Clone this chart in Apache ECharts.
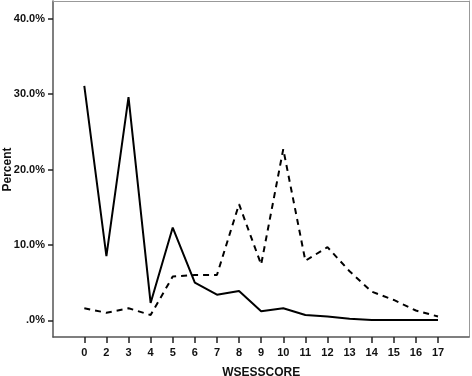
<!DOCTYPE html>
<html>
<head>
<meta charset="utf-8">
<script src="https://cdn.jsdelivr.net/npm/echarts@6/dist/echarts.min.js"></script>
<style>html,body{margin:0;padding:0;background:#fff}#c{width:472px;height:376px}</style>
</head>
<body>
<div id="c"></div>
<script>
var categories = ['0','2','3','4','5','6','7','8','9','10','11','12','13','14','15','16','17'];
var solidValues = [31.1, 8.5, 29.6, 2.3, 12.3, 5.0, 3.4, 3.9, 1.2, 1.6, 0.7, 0.5, 0.2, 0.05, 0.05, 0.05, 0.05];
var dashedValues = [1.6, 1.0, 1.6, 0.7, 5.8, 6.0, 6.0, 15.4, 7.4, 22.7, 7.9, 9.7, 6.5, 3.8, 2.7, 1.3, 0.5];
var yMin = 0, yMax = 40, yStep = 10;

var font = 'Liberation Sans';
var txt = {fontFamily: font, fontWeight: 'bold', fontSize: 11, color: '#111'};
var nameTxt = {fontFamily: font, fontWeight: 'bold', fontSize: 12, color: '#111'};
var off = {show: false};
var frame = {left: 53, right: 3, top: 1, bottom: 39};
var inner = {left: 84.3, right: 34};
var yBand = {top: 18.7, bottom: 55.7};
function g(o){ return Object.assign({containLabel: false, outerBoundsMode: 'none'}, o); }

var chart = echarts.init(document.getElementById('c'), null, {renderer:'canvas'});
chart.setOption({
  animation: false,
  backgroundColor: '#fff',
  grid: [
    g({left: frame.left, right: frame.right, top: frame.top, bottom: frame.bottom}),
    g({left: frame.left, right: frame.right, top: yBand.top, bottom: yBand.bottom}),
    g({left: inner.left, right: inner.right, top: frame.top, bottom: frame.bottom}),
    g({left: inner.left, right: inner.right, top: yBand.top, bottom: yBand.bottom})
  ],
  xAxis: [
    {gridIndex: 0, type: 'value', min: 0, max: 1, position: 'bottom',
     axisLine: {show: true, onZero: false, lineStyle: {color: '#555', width: 1.5}},
     axisTick: off, axisLabel: off, splitLine: off},
    {gridIndex: 0, type: 'value', min: 0, max: 1, position: 'top',
     axisLine: {show: true, onZero: false, lineStyle: {color: '#999', width: 1}},
     axisTick: off, axisLabel: off, splitLine: off},
    {gridIndex: 1, type: 'value', min: 0, max: 1, show: false},
    {gridIndex: 2, type: 'category', data: categories, boundaryGap: false, position: 'bottom',
     name: 'WSESSCORE', nameLocation: 'middle', nameGap: 30, nameTextStyle: nameTxt, nameMoveOverlap: false,
     axisLine: {show: false, onZero: false},
     axisTick: {show: true, length: 6, interval: 0, lineStyle: {color: '#222', width: 1.5}},
     axisLabel: Object.assign({interval: 0, margin: 10}, txt),
     splitLine: off},
    {gridIndex: 3, type: 'category', data: categories, boundaryGap: false, show: false}
  ],
  yAxis: [
    {gridIndex: 0, type: 'value', min: 0, max: 1, position: 'left',
     axisLine: {show: true, onZero: false, lineStyle: {color: '#555', width: 1.5}},
     axisTick: off, axisLabel: off, splitLine: off},
    {gridIndex: 0, type: 'value', min: 0, max: 1, position: 'right',
     axisLine: {show: true, onZero: false, lineStyle: {color: '#999', width: 1}},
     axisTick: off, axisLabel: off, splitLine: off},
    {gridIndex: 1, type: 'value', min: yMin, max: yMax, interval: yStep, position: 'left',
     name: 'Percent', nameLocation: 'middle', nameGap: 39, nameTextStyle: nameTxt, nameMoveOverlap: false,
     axisLine: {show: false, onZero: false},
     axisTick: {show: true, length: 5, lineStyle: {color: '#222', width: 1.5}},
     axisLabel: Object.assign({margin: 8, formatter: function(v){ return v === 0 ? '.0%' : v.toFixed(1) + '%'; }}, txt),
     splitLine: off},
    {gridIndex: 2, type: 'value', min: 0, max: 1, show: false},
    {gridIndex: 3, type: 'value', min: yMin, max: yMax, show: false}
  ],
  series: [
    {type: 'line', xAxisIndex: 4, yAxisIndex: 4, data: solidValues, showSymbol: false, symbol: 'none',
     lineStyle: {color: '#000', width: 2, type: 'solid'}},
    {type: 'line', xAxisIndex: 4, yAxisIndex: 4, data: dashedValues, showSymbol: false, symbol: 'none',
     lineStyle: {color: '#000', width: 2, type: [6, 5]}}
  ]
});
</script>
</body>
</html>
